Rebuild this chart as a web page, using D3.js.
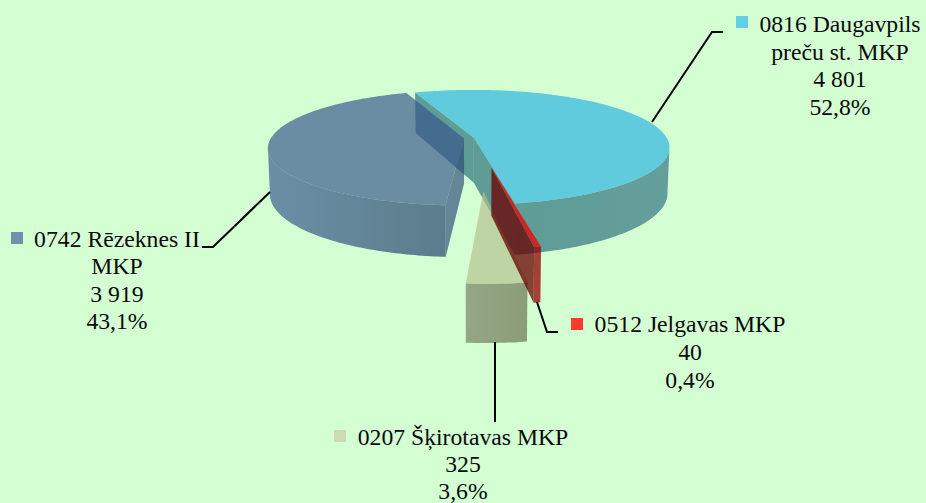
<!DOCTYPE html>
<html>
<head>
<meta charset="utf-8">
<script src="https://cdn.jsdelivr.net/npm/d3@7"></script>
<style>
  body { margin: 0; background: #d3ffd3; }
  text { font-family: "Liberation Serif", serif; font-size: 23.7px; fill: #0a0a0a; }
</style>
</head>
<body>
<div id="chart"></div>
<script>
// Data
const categories = ['0816 Daugavpils preču st. MKP', '0512 Jelgavas MKP', '0207 Šķirotavas MKP', '0742 Rēzeknes II MKP'];
const values = [4801, 40, 325, 3919];

// How the names wrap in the labels
const labelLines = [['0816 Daugavpils', 'preču st. MKP'], ['0512 Jelgavas MKP'], ['0207 Šķirotavas MKP'], ['0742 Rēzeknes II', 'MKP']];

// Slice look, one entry per slice
const explode = [0.01, 0.497, 0.825, 0.042];
const topFill = ['#27b2e0', '#f00000', '#b4bf8e', '#36558b'];
const wallFrom = ['#256b77', '#960000', '#767c5d', '#36588e'];
const wallTo = ['#2e6f81', '#960000', '#666b4b', '#213c68'];
const cutFill = ['#256b77', '#680000', '#767c5d', '#2c4a78'];
const keyFill = ['#60d0e6', '#ff3b30', '#cbdcb3', '#6e92ab'];
const sliceAlpha = [0.67, 0.75, 0.67, 0.67];

// Label layout: text centre, first baseline, line gap, key square and leader line
const labelX = [840, 690, 463, 117];
const labelY = [32, 332, 445, 247];
const lineGap = [27.6, 28, 27, 27.3];
const keyPos = [[736, 16], [571, 318], [334, 430], [11, 232]];
const leaders = [
  [[652, 122], [712, 32], [723, 32]],
  [[537, 302], [547, 332], [558, 332]],
  [[495, 342], [495, 422]],
  [[270, 192], [213, 247], [202, 247]]
];

const width = 926, height = 503;
const cx = 472, cy = 138;      // pie centre on screen
const R = 193, Ry = 55.9;      // disc radii
const k = 0.165;               // perspective
const skew = -1.3 * Math.PI / 180; // pulled out slices lean slightly right

const svg = d3.select('#chart').append('svg')
  .attr('width', width)
  .attr('height', height);
svg.append('rect').attr('width', width).attr('height', height).attr('fill', '#d3ffd3');

const defs = svg.append('defs');
const line = d3.line();

// Disc coordinates (u to the right, v toward the viewer) to screen
function project(u, v, bottom) {
  const s = 1 / (1 - k * v);
  const x = R * u * s, y = Ry * v * s;
  if (!bottom) return [cx + x, cy + y];
  return [cx + x * 0.99, cy + y + 45 + 33 * (s - 1)];
}

const fmt = d3.formatLocale({ decimal: ',', thousands: ' ', grouping: [3], currency: ['', ''] });
const total = d3.sum(values);

// first slice starts a little left of straight back, clockwise
const start = -20.5 * Math.PI / 180;
const arcs = d3.pie().sort(null).startAngle(start).endAngle(start + 2 * Math.PI)(values);

const slices = arcs.map((d, i) => {
  const mid = (d.startAngle + d.endAngle) / 2 + skew;
  const ou = explode[i] * Math.sin(mid), ov = -explode[i] * Math.cos(mid);
  return {
    i, a0: d.startAngle, a1: d.endAngle,
    apex: b => project(ou, ov, b),
    rim: (a, b) => project(ou + Math.sin(a), ov - Math.cos(a), b)
  };
});

function angles(a0, a1) {
  const n = Math.max(2, Math.ceil((a1 - a0) / (Math.PI / 180)));
  return d3.range(n + 1).map(j => a0 + (a1 - a0) * j / n);
}

// which flat cut faces the viewer can see, per slice: [start side, end side]
const cutSeen = [[true, true], [false, true], [false, false], [true, false]];

function drawSlice(g, s) {
  const i = s.i;
  const o = sliceAlpha[i];

  [s.a0, s.a1].forEach((a, side) => {
    if (!cutSeen[i][side]) return;
    const pts = [s.apex(), s.rim(a), s.rim(a, true), s.apex(true)];
    g.append('path').attr('d', line(pts) + 'Z').attr('fill', cutFill[i]).attr('opacity', o);
  });

  // outer wall: only the front part of the rim shows
  const seenAngles = angles(s.a0, s.a1).filter(a => -Math.cos(a) >= k * 0.9);
  if (seenAngles.length > 1) {
    const topEdge = seenAngles.map(a => s.rim(a));
    const botEdge = seenAngles.map(a => s.rim(a, true)).reverse();
    const id = 'wall' + i;
    const xs = topEdge.map(p => p[0]);
    const grad = defs.append('linearGradient').attr('id', id)
      .attr('gradientUnits', 'userSpaceOnUse')
      .attr('x1', d3.min(xs)).attr('x2', d3.max(xs)).attr('y1', 0).attr('y2', 0);
    grad.append('stop').attr('offset', 0).attr('stop-color', wallFrom[i]);
    grad.append('stop').attr('offset', 1).attr('stop-color', wallTo[i]);
    g.append('path').attr('d', line(topEdge.concat(botEdge)) + 'Z')
      .attr('fill', `url(#${id})`).attr('opacity', o);
  }

  // top face
  const face = [s.apex()].concat(angles(s.a0, s.a1).map(a => s.rim(a)));
  g.append('path').attr('d', line(face) + 'Z').attr('fill', topFill[i]).attr('opacity', o);
}

const pie = svg.append('g').attr('class', 'pie');
// back to front: big slices first, then the pulled out ones
[0, 3, 2, 1].forEach(i => drawSlice(pie.append('g'), slices[i]));

// Leader lines
svg.append('g').selectAll('path')
  .data(leaders)
  .join('path')
  .attr('d', d => line(d))
  .attr('fill', 'none')
  .attr('stroke', '#000')
  .attr('stroke-width', 2);

// Labels with key squares
const labels = svg.append('g').selectAll('g')
  .data(categories)
  .join('g')
  .attr('class', 'label');

labels.append('rect')
  .attr('x', (d, i) => keyPos[i][0])
  .attr('y', (d, i) => keyPos[i][1])
  .attr('width', 12)
  .attr('height', 12)
  .attr('fill', (d, i) => keyFill[i]);

labels.each(function(d, i) {
  const rows = labelLines[i].concat([fmt.format(',')(values[i]), fmt.format('.1%')(values[i] / total)]);
  d3.select(this).selectAll('text')
    .data(rows)
    .join('text')
    .attr('x', labelX[i])
    .attr('y', (r, j) => labelY[i] + j * lineGap[i])
    .attr('text-anchor', 'middle')
    .text(r => r);
});
</script>
</body>
</html>
